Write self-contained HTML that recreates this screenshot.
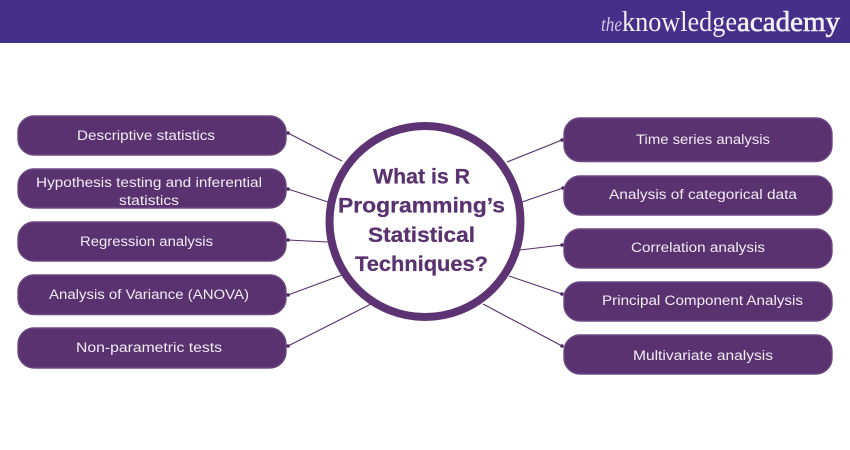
<!DOCTYPE html>
<html><head><meta charset="utf-8"><style>
html,body{margin:0;padding:0;background:#fff;width:850px;height:450px;overflow:hidden}
svg{display:block}
.b{fill:#5b3270;stroke:#6d4883;stroke-width:1.4}
.t{font-family:"Liberation Sans",sans-serif;font-size:13.5px;fill:#f1ecf4}
.c{font-family:"Liberation Sans",sans-serif;font-size:21px;font-weight:bold;fill:#5a326f;stroke:#5a326f;stroke-width:.25}
.l{stroke:#54306b;stroke-width:1.1}
.d{fill:#4a2a60}
</style></head><body>
<svg width="850" height="450" viewBox="0 0 850 450" xmlns="http://www.w3.org/2000/svg">
<rect width="850" height="450" fill="#fff"/>
<rect width="850" height="43" fill="#443089"/>
<g font-family="Liberation Serif,serif" fill="#f2eff7">
<text x="601" y="31" font-size="20" font-style="italic" fill="#cfc8e2" textLength="21" lengthAdjust="spacingAndGlyphs">the</text>
<text x="622" y="31" font-size="28" textLength="115" lengthAdjust="spacingAndGlyphs">knowledge</text>
<text x="737" y="31" font-size="28" stroke="#f2eff7" stroke-width=".6" textLength="103" lengthAdjust="spacingAndGlyphs">academy</text>
</g>
<g class="l">
<line x1="288" y1="133" x2="342" y2="161"/>
<line x1="288" y1="189" x2="328" y2="202"/>
<line x1="288" y1="240" x2="328" y2="242"/>
<line x1="288" y1="295" x2="342" y2="275"/>
<line x1="288" y1="346" x2="371" y2="304"/>
<line x1="562" y1="140" x2="507" y2="162"/>
<line x1="563" y1="188" x2="522" y2="202"/>
<line x1="562" y1="245" x2="520" y2="250"/>
<line x1="562" y1="294" x2="509" y2="276"/>
<line x1="562" y1="346" x2="483" y2="304"/>
</g>
<g class="d">
<circle cx="288" cy="133" r="1.8"/><circle cx="288" cy="189" r="1.8"/><circle cx="288" cy="240" r="1.8"/><circle cx="288" cy="295" r="1.8"/><circle cx="288" cy="346" r="1.8"/>
<circle cx="562" cy="140" r="1.8"/><circle cx="563" cy="188" r="1.8"/><circle cx="562" cy="245" r="1.8"/><circle cx="562" cy="294" r="1.8"/><circle cx="562" cy="346" r="1.8"/>
</g>
<g class="b">
<rect x="18" y="116" width="268" height="39" rx="16"/>
<rect x="18" y="169" width="268" height="39" rx="16"/>
<rect x="18" y="222" width="268" height="39" rx="16"/>
<rect x="18" y="275" width="268" height="39.5" rx="16"/>
<rect x="18" y="328" width="268" height="40" rx="16"/>
<rect x="564" y="118" width="268" height="43.5" rx="16"/>
<rect x="564" y="176" width="268" height="39" rx="16"/>
<rect x="564" y="229" width="268" height="39" rx="16"/>
<rect x="564" y="282" width="268" height="39" rx="16"/>
<rect x="564" y="335" width="268" height="39" rx="16"/>
</g>
<g class="t">
<text x="77" y="140" textLength="138" lengthAdjust="spacingAndGlyphs">Descriptive statistics</text>
<text x="36" y="187" textLength="226" lengthAdjust="spacingAndGlyphs">Hypothesis testing and inferential</text>
<text x="119" y="205" textLength="60" lengthAdjust="spacingAndGlyphs">statistics</text>
<text x="80" y="246" textLength="133" lengthAdjust="spacingAndGlyphs">Regression analysis</text>
<text x="49" y="299" textLength="200" lengthAdjust="spacingAndGlyphs">Analysis of Variance (ANOVA)</text>
<text x="76" y="352" textLength="146" lengthAdjust="spacingAndGlyphs">Non-parametric tests</text>
<text x="636" y="144" textLength="134" lengthAdjust="spacingAndGlyphs">Time series analysis</text>
<text x="609" y="199" textLength="188" lengthAdjust="spacingAndGlyphs">Analysis of categorical data</text>
<text x="631" y="252" textLength="134" lengthAdjust="spacingAndGlyphs">Correlation analysis</text>
<text x="602" y="305" textLength="201" lengthAdjust="spacingAndGlyphs">Principal Component Analysis</text>
<text x="633" y="360" textLength="140" lengthAdjust="spacingAndGlyphs">Multivariate analysis</text>
</g>
<circle cx="425" cy="221.5" r="95.5" fill="#fff" stroke="#5d3373" stroke-width="8"/>
<g class="c">
<text x="373" y="183.5" textLength="97" lengthAdjust="spacingAndGlyphs">What is R</text>
<text x="338" y="212.5" textLength="167" lengthAdjust="spacingAndGlyphs">Programming’s</text>
<text x="368" y="242" textLength="107" lengthAdjust="spacingAndGlyphs">Statistical</text>
<text x="355" y="271" textLength="133" lengthAdjust="spacingAndGlyphs">Techniques?</text>
</g>
</svg>
</body></html>
